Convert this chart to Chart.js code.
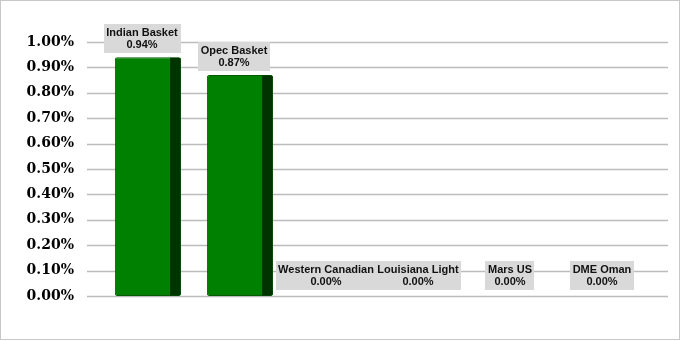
<!DOCTYPE html>
<html lang="en">
<head>
    <meta charset="UTF-8">
    <title>Crude Basket Chart</title>
    <script src="https://cdn.jsdelivr.net/npm/chart.js"></script>
    <style>
        html, body { margin: 0; padding: 0; background: #fff; }
        #wrap { width: 681px; height: 341px; }
    </style>
</head>
<body>
    <div id="wrap"><canvas id="basketChart" width="681" height="341"></canvas></div>
    <script>
        // data
        const categories = ['Indian Basket', 'Opec Basket', 'Western Canadian', 'Louisiana Light', 'Mars US', 'DME Oman'];
        const changes = [0.94, 0.87, 0, 0, 0, 0];
        const yTicks = [0, 0.1, 0.2, 0.3, 0.4, 0.5, 0.6, 0.7, 0.8, 0.9, 1.0];

        const fmt = v => v.toFixed(2) + '%';

        // back wall gridlines, a bit wider than the bars (3d look)
        const wallGrid = {
            id: 'wallGrid',
            beforeDatasetsDraw(chart) {
                const ctx = chart.ctx;
                const y = chart.scales.y;
                const a = chart.chartArea;
                ctx.save();
                ctx.strokeStyle = '#bcbcbc';
                ctx.lineWidth = 1.4;
                yTicks.forEach(t => {
                    const py = Math.round(y.getPixelForValue(t)) + 0.5;
                    ctx.beginPath();
                    ctx.moveTo(a.left - 15, py);
                    ctx.lineTo(a.right + 14, py);
                    ctx.stroke();
                });
                ctx.restore();
            }
        };

        // dark right side of each bar + the grey label boxes
        const barExtras = {
            id: 'barExtras',
            afterDatasetsDraw(chart) {
                const ctx = chart.ctx;
                const meta = chart.getDatasetMeta(0);
                ctx.save();
                meta.data.forEach((bar, i) => {
                    const right = bar.x + bar.width / 2;
                    if (bar.base - bar.y > 1) {
                        ctx.fillStyle = '#003300';
                        ctx.beginPath();
                        ctx.roundRect(right - 11, bar.y + 0.5, 10.5, bar.base - bar.y - 1, [0, 2, 2, 0]);
                        ctx.fill();
                    }
                    // label
                    ctx.font = 'bold 11px "Liberation Sans", Arial, sans-serif';
                    const l1 = categories[i];
                    const l2 = fmt(changes[i]);
                    const w = Math.max(ctx.measureText(l1).width, ctx.measureText(l2).width) + 5;
                    const cx = bar.x - 6;
                    const bottom = bar.y - (changes[i] > 0 ? 4 : 6);
                    const top = bottom - 29;
                    ctx.fillStyle = '#d9d9d9';
                    ctx.fillRect(Math.round(cx - w / 2), Math.round(top), Math.round(w), 29);
                    ctx.fillStyle = '#111';
                    ctx.textAlign = 'center';
                    ctx.textBaseline = 'middle';
                    ctx.fillText(l1, cx, top + 8.5);
                    ctx.fillText(l2, cx, top + 21);
                });
                ctx.restore();
            },
            afterDraw(chart) {
                const ctx = chart.ctx;
                ctx.save();
                ctx.strokeStyle = '#c8c8c8';
                ctx.lineWidth = 1;
                ctx.strokeRect(0.5, 0.5, 679, 339);
                ctx.restore();
            }
        };

        new Chart(document.getElementById('basketChart'), {
            type: 'bar',
            data: {
                labels: categories,
                datasets: [{
                    data: changes,
                    backgroundColor: '#008000',
                    borderColor: '#005a00',
                    borderWidth: 1,
                    borderRadius: 2,
                    borderSkipped: false,
                    categoryPercentage: 1,
                    barPercentage: 0.72
                }]
            },
            options: {
                responsive: false,
                animation: false,
                layout: { padding: { left: 0, right: 27, top: 42, bottom: 45 } },
                plugins: { legend: { display: false }, tooltip: { enabled: false } },
                scales: {
                    x: { display: false },
                    y: {
                        min: 0,
                        max: 1.0,
                        afterFit: s => { s.width = 102; },
                        afterBuildTicks: s => { s.ticks = yTicks.map(v => ({ value: v })); },
                        grid: { display: false, drawTicks: false },
                        border: { display: false },
                        ticks: {
                            padding: 28,
                            color: '#000',
                            font: { family: '"DejaVu Serif", serif', size: 14, weight: 'bold' },
                            callback: v => fmt(v)
                        }
                    }
                }
            },
            plugins: [wallGrid, barExtras]
        });
    </script>
</body>
</html>
